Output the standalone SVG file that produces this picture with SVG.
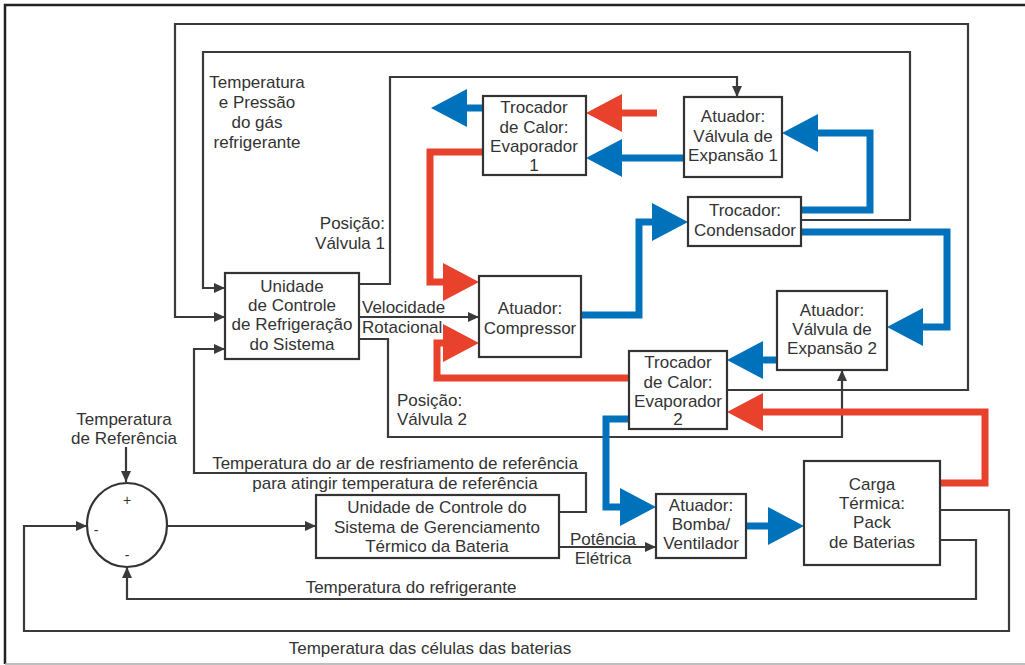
<svg xmlns="http://www.w3.org/2000/svg" width="1025" height="665" viewBox="0 0 1025 665">
<style>
text{font-family:"Liberation Sans",Arial,sans-serif;font-size:17px;fill:#333}
.c{text-anchor:middle}
.e{text-anchor:end}
.box{fill:#fff;stroke:#333;stroke-width:2.2}
.ln{fill:none;stroke:#3a3a3a;stroke-width:2.2;marker-end:url(#ah)}
.bl{fill:none;stroke:#0072BC;stroke-width:7;marker-end:url(#bh)}
.rd{fill:none;stroke:#E8412C;stroke-width:7;marker-end:url(#rh)}
</style>
<defs>
<marker id="ah" markerUnits="userSpaceOnUse" markerWidth="12" markerHeight="12" refX="11" refY="6" orient="auto"><path d="M0,1 L11,6 L0,11 z" fill="#3a3a3a"/></marker>
<marker id="bh" markerUnits="userSpaceOnUse" markerWidth="37" markerHeight="40" refX="0" refY="19" orient="auto"><path d="M0,0 L36,19 L0,38 z" fill="#0072BC"/></marker>
<marker id="rh" markerUnits="userSpaceOnUse" markerWidth="37" markerHeight="40" refX="0" refY="19" orient="auto"><path d="M0,0 L36,19 L0,38 z" fill="#E8412C"/></marker>
</defs>
<rect width="1025" height="665" fill="#fff"/>
<g id="frame">
<polyline points="1025,5 5,5 5,664" fill="none" stroke="#222" stroke-width="2.5"/>
<line x1="5" y1="664" x2="1025" y2="664" stroke="#aaa" stroke-width="1.5"/>
</g>
<g id="connectors">
<polyline class="ln" points="727,390 968,390 968,24 175,24 175,317 225,317"/>
<polyline class="ln" points="801,220 910,220 910,52 203,52 203,288 225,288"/>
<polyline class="ln" points="359,284 390,284 390,77 737,77 737,97"/>
<polyline class="ln" points="359,317 479,317"/>
<polyline class="ln" points="359,339 388,339 388,437 842,437 842,370"/>
<polyline class="ln" points="559,512 586,512 586,473 194,473 194,349 225,349"/>
<polyline class="ln" points="559,547 656,547"/>
<polyline class="ln" points="167,526 316,526"/>
<polyline class="ln" points="126,447 126,482"/>
<polyline class="ln" points="940,540 976,540 976,599 127,599 127,567"/>
<polyline class="ln" points="940,510 1009,510 1009,631 24,631 24,526 87,526"/>
<polyline class="bl" points="483,108 467,108"/>
<polyline class="bl" points="684,158 622,158"/>
<polyline class="bl" points="801,210 870,210 870,133 818,133"/>
<polyline class="bl" points="801,232 947,232 947,327 923,327"/>
<polyline class="bl" points="581,315 639,315 639,222 652,222"/>
<polyline class="bl" points="778,360 763,360"/>
<polyline class="bl" points="629,419 606,419 606,507 620,507"/>
<polyline class="bl" points="746,526 768,526"/>
<polyline class="rd" points="657,113 622,113"/>
<polyline class="rd" points="483,152 430,152 430,282 443,282"/>
<polyline class="rd" points="629,378 437,378 437,343 443,343"/>
<polyline class="rd" points="940,483 985,483 985,412 763,412"/>
</g>
<g id="labels">
<text class="c" x="257" y="88">Temperatura</text>
<text class="c" x="257" y="108">e Pressão</text>
<text class="c" x="257" y="128">do gás</text>
<text class="c" x="257" y="148">refrigerante</text>
<text class="e" x="385" y="229">Posição:</text>
<text class="e" x="385" y="249">Válvula 1</text>
<text x="362" y="313">Velocidade</text>
<text x="362" y="333">Rotacional</text>
<text x="397" y="406">Posição:</text>
<text x="397" y="425">Válvula 2</text>
<text class="c" x="395" y="469">Temperatura do ar de resfriamento de referência</text>
<text class="c" x="395" y="489">para atingir temperatura de referência</text>
<text class="c" x="603" y="545">Potência</text>
<text class="c" x="603" y="564">Elétrica</text>
<text class="c" x="411" y="593">Temperatura do refrigerante</text>
<text class="c" x="430" y="654">Temperatura das células das baterias</text>
<text class="c" x="124" y="425">Temperatura</text>
<text class="c" x="124" y="444">de Referência</text>
</g>
<g id="sum">
<ellipse cx="127" cy="525" rx="40" ry="42" fill="#fff" stroke="#333" stroke-width="2.2"/>
<text class="c" x="127" y="505" style="font-size:14px">+</text>
<text class="c" x="96" y="535" style="font-size:14px">-</text>
<text class="c" x="127" y="560" style="font-size:14px">-</text>
</g>
<g id="evap1">
<rect class="box" x="483" y="96" width="103" height="79"/>
<text class="c" x="534" y="113">Trocador</text>
<text class="c" x="534" y="133">de Calor:</text>
<text class="c" x="534" y="152">Evaporador</text>
<text class="c" x="534" y="171">1</text>
</g>
<g id="valv1">
<rect class="box" x="684" y="97" width="98" height="80"/>
<text class="c" x="733" y="122">Atuador:</text>
<text class="c" x="733" y="142">Válvula de</text>
<text class="c" x="733" y="161">Expansão 1</text>
</g>
<g id="cond">
<rect class="box" x="688" y="197" width="113" height="49"/>
<text class="c" x="745" y="216">Trocador:</text>
<text class="c" x="745" y="236">Condensador</text>
</g>
<g id="valv2">
<rect class="box" x="777" y="291" width="110" height="79"/>
<text class="c" x="832" y="316">Atuador:</text>
<text class="c" x="832" y="335">Válvula de</text>
<text class="c" x="832" y="354">Expansão 2</text>
</g>
<g id="evap2">
<rect class="box" x="629" y="351" width="98" height="78"/>
<text class="c" x="678" y="368">Trocador</text>
<text class="c" x="678" y="388">de Calor:</text>
<text class="c" x="678" y="407">Evaporador</text>
<text class="c" x="678" y="425">2</text>
</g>
<g id="bomba">
<rect class="box" x="656" y="494" width="90" height="64"/>
<text class="c" x="701" y="511">Atuador:</text>
<text class="c" x="701" y="530">Bomba/</text>
<text class="c" x="701" y="549">Ventilador</text>
</g>
<g id="carga">
<rect class="box" x="804" y="461" width="136" height="104"/>
<text class="c" x="872" y="490">Carga</text>
<text class="c" x="872" y="509">Térmica:</text>
<text class="c" x="872" y="528">Pack</text>
<text class="c" x="872" y="548">de Baterias</text>
</g>
<g id="compressor">
<rect class="box" x="479" y="276" width="102" height="81"/>
<text class="c" x="530" y="314">Atuador:</text>
<text class="c" x="530" y="334">Compressor</text>
</g>
<g id="ucr">
<rect class="box" x="225" y="273" width="134" height="86"/>
<text class="c" x="292" y="292">Unidade</text>
<text class="c" x="292" y="311">de Controle</text>
<text class="c" x="292" y="330">de Refrigeração</text>
<text class="c" x="292" y="350">do Sistema</text>
</g>
<g id="ucs">
<rect class="box" x="316" y="495" width="243" height="63"/>
<text class="c" x="437" y="513">Unidade de Controle do</text>
<text class="c" x="437" y="533">Sistema de Gerenciamento</text>
<text class="c" x="437" y="552">Térmico da Bateria</text>
</g>
</svg>
